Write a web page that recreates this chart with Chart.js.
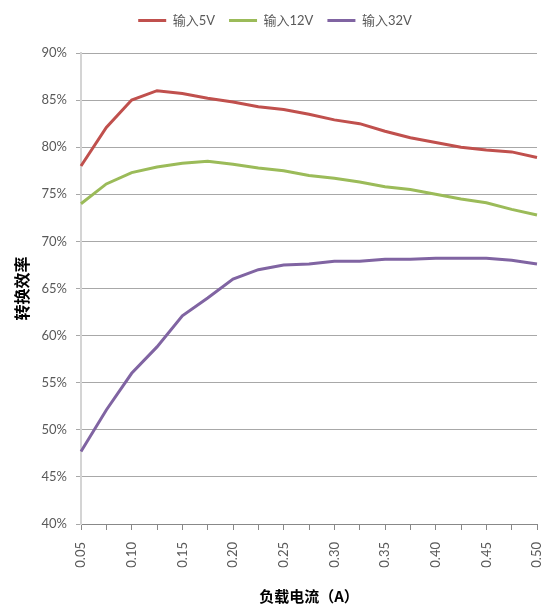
<!DOCTYPE html>
<html>
<head>
<meta charset="utf-8">
<script src="https://cdn.jsdelivr.net/npm/chart.js@4.4.1/dist/chart.umd.min.js"></script>
<style>
  html, body { margin: 0; padding: 0; background: #fff; }
</style>
</head>
<body>
<canvas id="effChart" width="550" height="612"></canvas>
<script>
// load current (A) and conversion efficiency (%)
const currents = [0.05, 0.075, 0.10, 0.125, 0.15, 0.175, 0.20, 0.225, 0.25, 0.275,
                  0.30, 0.325, 0.35, 0.375, 0.40, 0.425, 0.45, 0.475, 0.50];
const input5V  = [78.0, 82.1, 85.0, 86.0, 85.7, 85.2, 84.8, 84.3, 84.0, 83.5,
                  82.9, 82.5, 81.7, 81.0, 80.5, 80.0, 79.7, 79.5, 78.9];
const input12V = [74.0, 76.1, 77.3, 77.9, 78.3, 78.5, 78.2, 77.8, 77.5, 77.0,
                  76.7, 76.3, 75.8, 75.5, 75.0, 74.5, 74.1, 73.4, 72.8];
const input32V = [47.7, 52.1, 56.0, 58.8, 62.1, 64.0, 66.0, 67.0, 67.5, 67.6,
                  67.9, 67.9, 68.1, 68.1, 68.2, 68.2, 68.2, 68.0, 67.6];
const seriesNames = ["输入5V", "输入12V", "输入32V"];
const yMin = 40, yMax = 90, yStep = 5;

Chart.defaults.font.family = 'Lato, "Noto Sans CJK SC", sans-serif';
Chart.defaults.color = "#595959";

// give the legend a fixed height so the plot starts where it should
const legendHeight = {
    id: "legendHeight",
    beforeInit(chart) {
        const fit = chart.legend.fit;
        chart.legend.fit = function () {
            fit.call(this);
            this.height = 53;
        };
    }
};

new Chart(document.getElementById("effChart"), {

    type: "line",

    data: {
        labels: currents.map(c => c.toFixed(2)),
        datasets: [
            { label: seriesNames[0], data: input5V,  borderColor: "#C0504D", backgroundColor: "#C0504D" },
            { label: seriesNames[1], data: input12V, borderColor: "#9BBB59", backgroundColor: "#9BBB59" },
            { label: seriesNames[2], data: input32V, borderColor: "#8064A2", backgroundColor: "#8064A2" }
        ]
    },

    options: {
        responsive: false,
        animation: false,
        layout: { padding: 0 },
        elements: {
            point: { radius: 0 },
            line: { tension: 0, borderWidth: 3 }
        },
        plugins: {
            legend: {
                position: "top",
                labels: {
                    boxWidth: 28,
                    boxHeight: 3,
                    padding: 14,
                    font: { size: 13 },
                    generateLabels(chart) {
                        return Chart.defaults.plugins.legend.labels.generateLabels(chart)
                            .map(l => ({ ...l, lineWidth: 0 }));
                    }
                }
            },
            tooltip: { enabled: false }
        },
        scales: {
            x: {
                type: "category",
                offset: false,
                grid: { drawOnChartArea: false, drawTicks: true, tickLength: 6, color: "#888888" },
                border: { color: "#888888", width: 1 },
                ticks: {
                    autoSkip: false,
                    minRotation: 90,
                    maxRotation: 90,
                    padding: 12,
                    font: { size: 13 },
                    callback(v, i) {
                        return i % 2 === 0 ? this.getLabelForValue(v) : "";
                    }
                },
                title: {
                    display: true,
                    text: "负载电流（A）",
                    color: "#000",
                    font: { size: 15, weight: "bold", family: '"Noto Sans CJK SC", sans-serif' },
                    padding: { top: 0, bottom: 7 }
                },
                afterFit(s) {
                    s.height = 88;
                    s.paddingRight = 13;
                }
            },
            y: {
                min: yMin,
                max: yMax,
                grid: { color: "#a8a8a8", tickLength: 5 },
                border: { color: "#d4d4d4", width: 2 },
                ticks: {
                    stepSize: yStep,
                    padding: 9,
                    font: { size: 13 },
                    callback: v => v + "%"
                },
                title: {
                    display: true,
                    text: "转换效率",
                    color: "#000",
                    font: { size: 16, weight: "bold", family: '"Noto Sans CJK SC", sans-serif' },
                    padding: { top: 12, bottom: 0 }
                },
                afterFit(s) {
                    s.width = 81;
                }
            }
        }
    },

    plugins: [legendHeight]

});
</script>
</body>
</html>
